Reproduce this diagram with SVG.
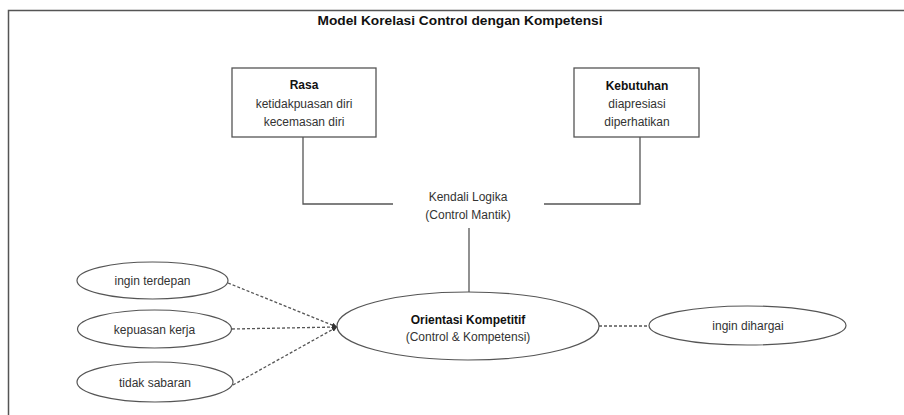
<svg xmlns="http://www.w3.org/2000/svg" width="904" height="415" viewBox="0 0 904 415">
<style>
text{font-family:"Liberation Sans",Arial,sans-serif;font-size:12px;fill:#333;text-anchor:middle}
.b{font-weight:bold;fill:#111}
.box{fill:#fff;stroke:#555;stroke-width:1.3}
.el{fill:#fff;stroke:#555;stroke-width:1.2}
.ln{fill:none;stroke:#555;stroke-width:1.3}
.dl{fill:none;stroke:#555;stroke-width:1.3;stroke-dasharray:3,2}
</style>
<defs>
<marker id="ah" viewBox="0 0 6 6" refX="6" refY="3" markerWidth="4" markerHeight="4" orient="auto">
<path d="M0,0 L6,3 L0,6 z" fill="#333"/>
</marker>
</defs>
<rect width="904" height="415" fill="#fff"/>
<path d="M8.5,415 V10.5 H904" fill="none" stroke="#555" stroke-width="1.5"/>
<text class="b" x="460" y="25" font-size="13.5" textLength="285" lengthAdjust="spacingAndGlyphs">Model Korelasi Control dengan Kompetensi</text>
<g id="connectors">
<path class="ln" d="M303,137 V204 H393"/>
<path class="ln" d="M640,137 V204 H544"/>
<path class="ln" d="M469,228 V292"/>
<path class="dl" d="M228,283 L337,327" marker-end="url(#ah)"/>
<path class="dl" d="M232,329 L337,327" marker-end="url(#ah)"/>
<path class="dl" d="M233,385 L337,327" marker-end="url(#ah)"/>
<path class="dl" d="M599,326 H649"/>
</g>
<g id="rasa">
<rect class="box" x="232" y="68" width="144" height="69"/>
<text class="b" x="304" y="89">Rasa</text>
<text x="304" y="108">ketidakpuasan diri</text>
<text x="304" y="126">kecemasan diri</text>
</g>
<g id="kebutuhan">
<rect class="box" x="574" y="68" width="125" height="69"/>
<text class="b" x="637" y="90">Kebutuhan</text>
<text x="637" y="108">diapresiasi</text>
<text x="637" y="126">diperhatikan</text>
</g>
<g id="kendali">
<text x="468" y="201">Kendali Logika</text>
<text x="468" y="219">(Control Mantik)</text>
</g>
<g id="orientasi">
<ellipse class="el" cx="468" cy="326" rx="131" ry="34"/>
<text class="b" x="468" y="324">Orientasi Kompetitif</text>
<text x="468" y="341">(Control &amp; Kompetensi)</text>
</g>
<g id="terdepan">
<ellipse class="el" cx="152.5" cy="280.5" rx="75.5" ry="18.5"/>
<text x="152.5" y="285">ingin terdepan</text>
</g>
<g id="kepuasan">
<ellipse class="el" cx="154.5" cy="329" rx="77" ry="19"/>
<text x="154.5" y="333.5">kepuasan kerja</text>
</g>
<g id="sabaran">
<ellipse class="el" cx="155" cy="382" rx="78" ry="20"/>
<text x="155" y="386.5">tidak sabaran</text>
</g>
<g id="dihargai">
<ellipse class="el" cx="747.5" cy="325.5" rx="98.5" ry="19.5"/>
<text x="748" y="330">ingin dihargai</text>
</g>
</svg>
